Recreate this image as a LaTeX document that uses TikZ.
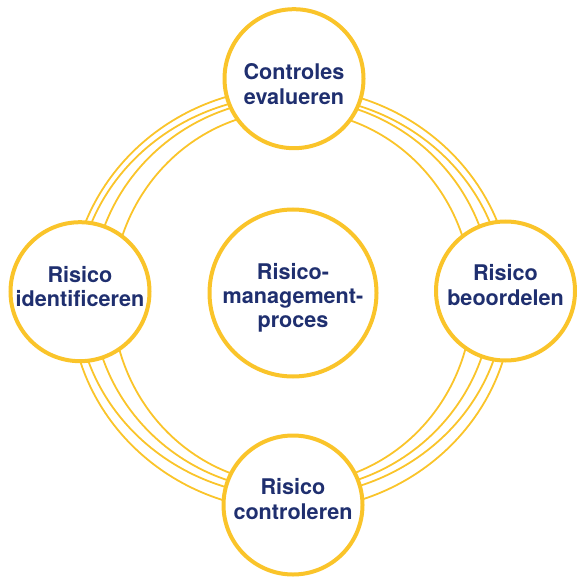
\documentclass[tikz,border=0pt]{standalone}
\usepackage{fontspec}
\setmainfont{TeX Gyre Heros}
\definecolor{geel}{HTML}{FAC42A}
\definecolor{blauw}{HTML}{1F2F6F}
\begin{document}
\begin{tikzpicture}[x=1pt,y=-1pt,
    ring/.style={draw=geel,line width=1.8pt},
    stap/.style={circle,draw=geel,fill=white,line width=4pt,minimum size=139pt,inner sep=0pt},
    tekst/.style={text=blauw,font=\bfseries\fontsize{21.6}{24.3}\selectfont,align=center}]
      \useasboundingbox (0,0) rectangle (576,577) ;
      % de ringen achter de stappen
      \draw[ring] (291.5,299) ellipse [x radius=221,y radius=211.5] ;
      \draw[ring] (290.8,296) ellipse [x radius=214,y radius=200.5] ;
      \draw[ring] (292,294.6) ellipse [x radius=200,y radius=196] ;
      \draw[ring] (292.3,297.5) ellipse [x radius=180,y radius=187] ;
      % de stappen
      \node[stap] (evalueren) at (294,78.7) {} ;
      \node[stap] (identificeren) at (80,291.7) {} ;
      \node[stap] (beoordelen) at (505.5,291) {} ;
      \node[stap] (controleren) at (293,505) {} ;
      \node[stap,minimum size=167pt] (proces) at (293,293) {} ;
      \node[tekst] (t-evalueren) at ([yshift=-5.5pt]evalueren.center) {Controles\\evalueren} ;
      \node[tekst] (t-identificeren) at ([yshift=5pt]identificeren.center) {Risico\\identificeren} ;
      \node[tekst] (t-beoordelen) at ([yshift=6pt]beoordelen.center) {Risico\\beoordelen} ;
      \node[tekst] (t-controleren) at ([yshift=6pt]controleren.center) {Risico\\controleren} ;
      \node[tekst] (t-proces) at ([yshift=-5pt]proces.center) {Risico-\\management-\\proces} ;
\end{tikzpicture}
\end{document}
